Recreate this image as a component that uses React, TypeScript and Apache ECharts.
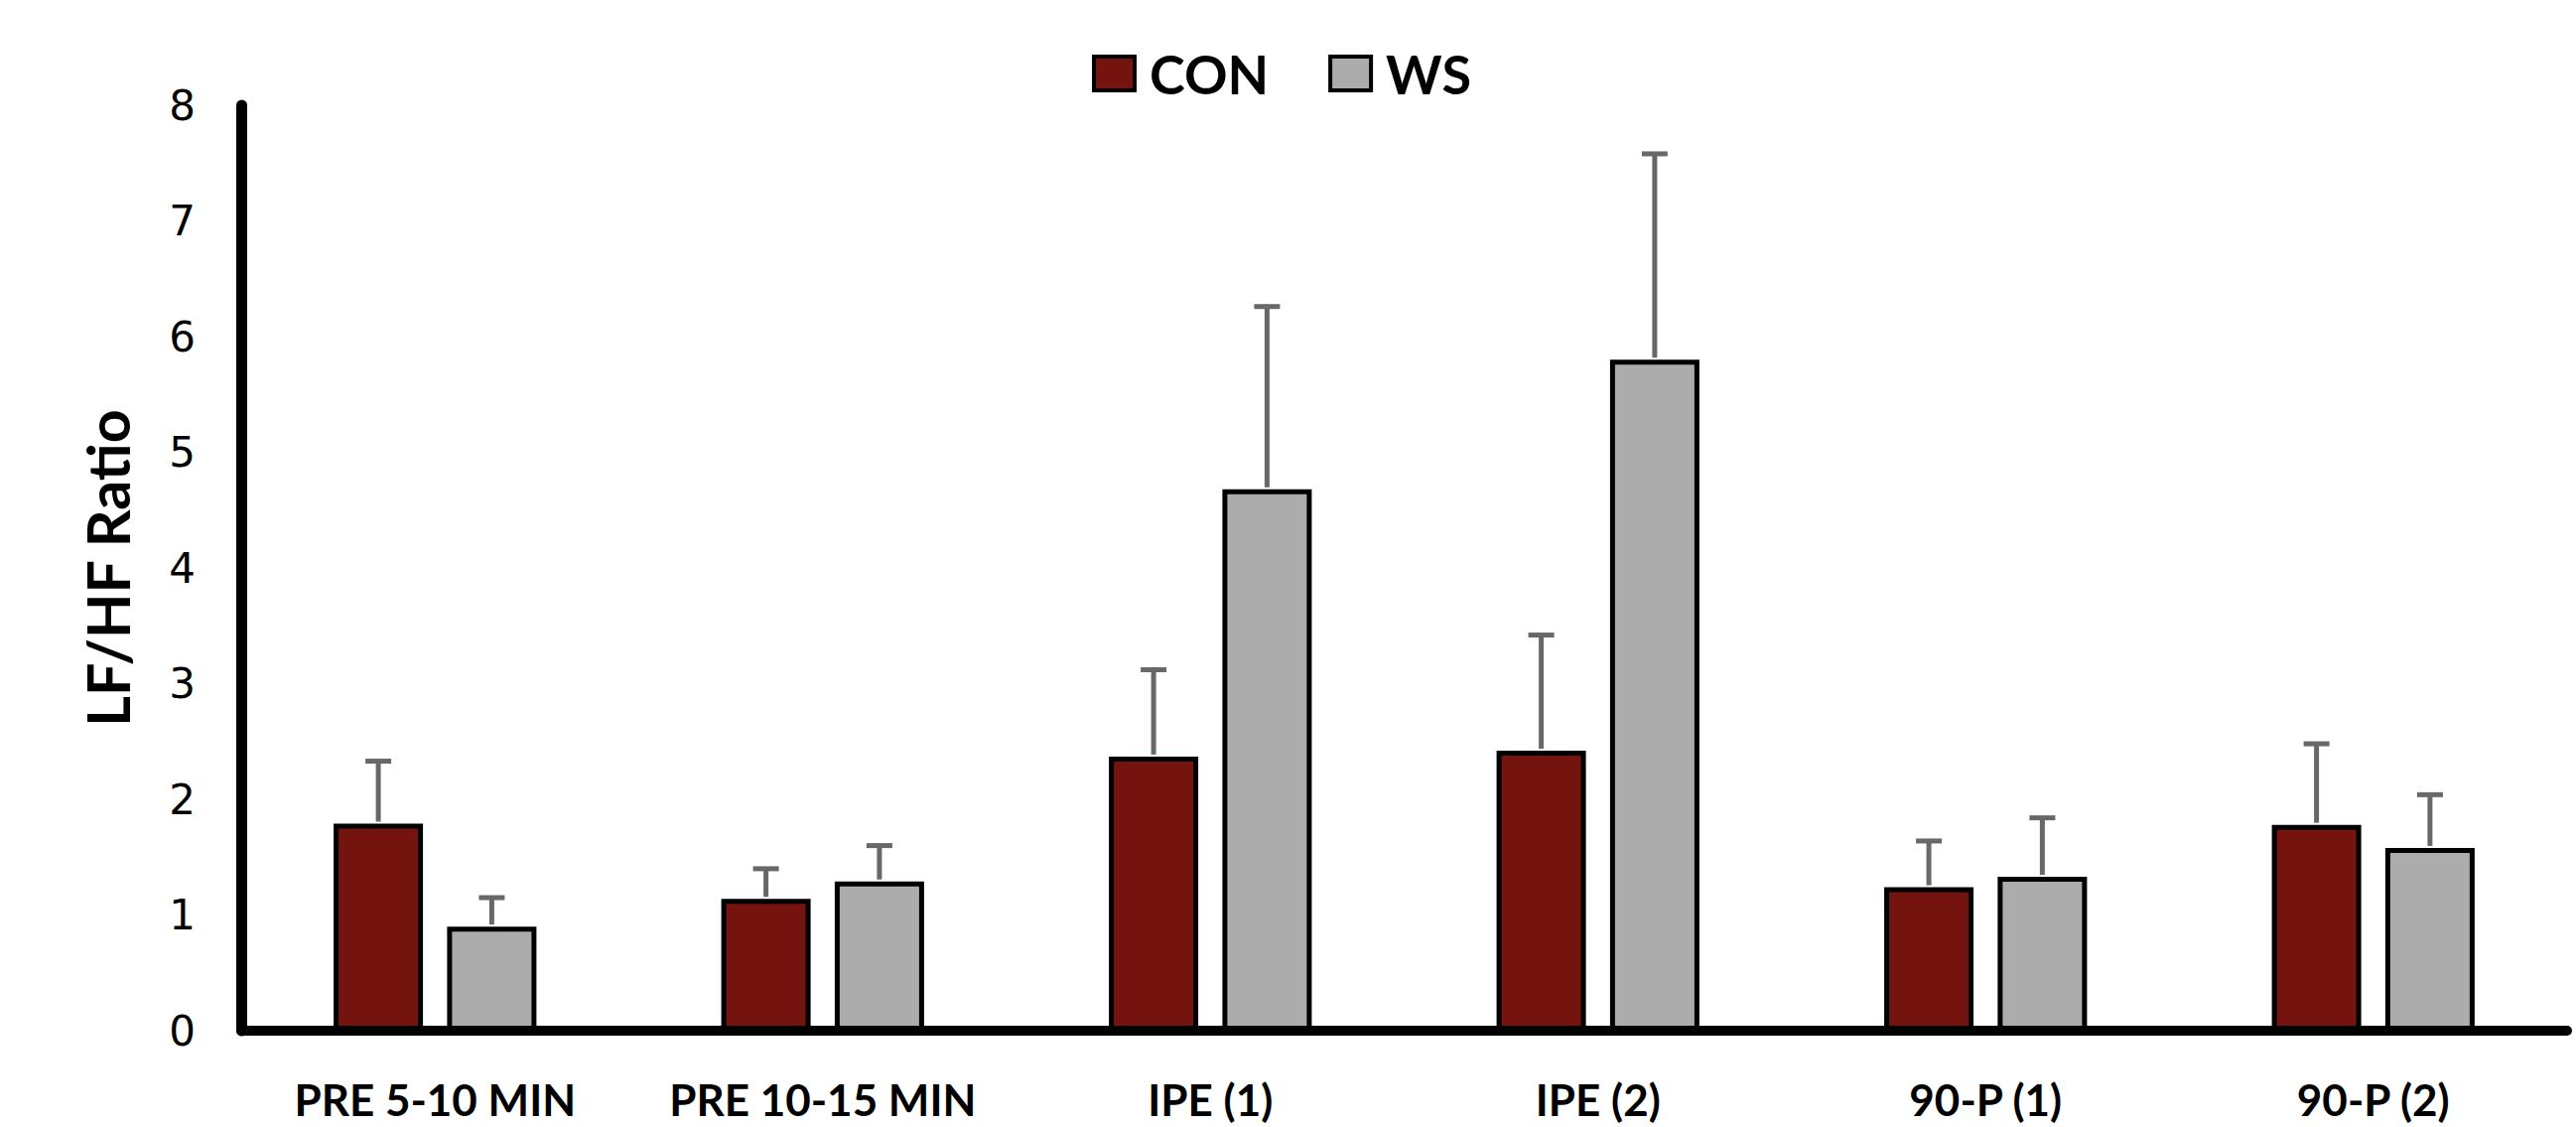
import React, { useEffect, useRef } from "react";
import * as echarts from "echarts";

const categories = ["PRE 5-10 MIN", "PRE 10-15 MIN", "IPE (1)", "IPE (2)", "90-P (1)", "90-P (2)"];
const conValues = [1.79, 1.14, 2.37, 2.42, 1.24, 1.78];
const conErrors = [0.54, 0.26, 0.75, 1.0, 0.4, 0.7];
const wsValues = [0.9, 1.29, 4.68, 5.8, 1.33, 1.58];
const wsErrors = [0.25, 0.31, 1.58, 1.78, 0.51, 0.46];
const yTicks = [0, 1, 2, 3, 4, 5, 6, 7, 8];

const BAR_W = 90;
const GAP_RATIO = 0.27;
const OFFSET = (BAR_W + BAR_W * GAP_RATIO) / 2;
const ERR_COLOR = "#686868";
const CAP_HALF = 13;

function errorSeries(name: string, values: number[], errors: number[], sign: number) {
  return {
    type: "custom",
    name,
    z: 5,
    silent: true,
    data: values.map((v, i) => [i, v, errors[i]]),
    renderItem: (_params: any, api: any) => {
      const idx = api.value(0);
      const v = api.value(1);
      const e = api.value(2);
      const p0 = api.coord([idx, v]);
      const p1 = api.coord([idx, v + e]);
      const cx = p0[0] + sign * OFFSET;
      const style = { stroke: ERR_COLOR, lineWidth: 5 };
      return {
        type: "group",
        children: [
          { type: "line", shape: { x1: cx, y1: p0[1] - 2, x2: cx, y2: p1[1] }, style },
          { type: "line", shape: { x1: cx - CAP_HALF, y1: p1[1], x2: cx + CAP_HALF, y2: p1[1] }, style },
        ],
      };
    },
  };
}

export default function App() {
  const ref = useRef<HTMLDivElement>(null);
  useEffect(() => {
    if (!ref.current) return;
    const chart = echarts.init(ref.current, null, { renderer: "svg" });
    chart.setOption({
      animation: false,
      backgroundColor: "#ffffff",
      legend: {
        data: ["CON", "WS"],
        left: 1095,
        top: 42,
        itemWidth: 41,
        itemHeight: 34,
        itemGap: 60,
        icon: "rect",
        itemStyle: { borderColor: "#000", borderWidth: 4 },
        textStyle: {
          fontFamily: "Lato",
          fontWeight: "bold",
          fontSize: 54,
          color: "#000",
          padding: [0, 0, 0, 10],
        },
      },
      grid: { left: 243, right: 9, top: 106, bottom: 97, containLabel: false },
      xAxis: {
        type: "category",
        data: categories,
        axisLine: { show: true, lineStyle: { color: "#000", width: 10 } },
        axisTick: { show: false },
        axisLabel: {
          interval: 0,
          margin: 47,
          fontFamily: "Lato",
          fontWeight: "bold",
          fontSize: 44,
          color: "#000",
        },
      },
      yAxis: {
        type: "value",
        min: yTicks[0],
        max: yTicks[yTicks.length - 1],
        interval: 1,
        name: "LF/HF Ratio",
        nameLocation: "middle",
        nameRotate: 90,
        nameGap: 105,
        nameTextStyle: {
          fontFamily: "Lato",
          fontWeight: "bold",
          fontSize: 59,
          color: "#000",
        },
        axisLine: { show: true, lineStyle: { color: "#000", width: 11 } },
        axisTick: { show: false },
        splitLine: { show: false },
        axisLabel: {
          margin: 46,
          fontFamily: "DejaVu Sans",
          fontSize: 42,
          color: "#000",
        },
      },
      series: [
        {
          type: "bar",
          name: "CON",
          data: conValues,
          barWidth: BAR_W,
          barGap: `${GAP_RATIO * 100}%`,
          itemStyle: { color: "#75140f", borderColor: "#000", borderWidth: 5 },
        },
        {
          type: "bar",
          name: "WS",
          data: wsValues,
          barWidth: BAR_W,
          barGap: `${GAP_RATIO * 100}%`,
          itemStyle: { color: "#acacac", borderColor: "#000", borderWidth: 5 },
        },
        errorSeries("CON error", conValues, conErrors, -1),
        errorSeries("WS error", wsValues, wsErrors, 1),
      ],
    });
    return () => chart.dispose();
  }, []);
  return (
    <div
      ref={ref}
      style={{ position: "fixed", left: 0, top: 0, width: 2595, height: 1135, background: "#fff" }}
    />
  );
}
